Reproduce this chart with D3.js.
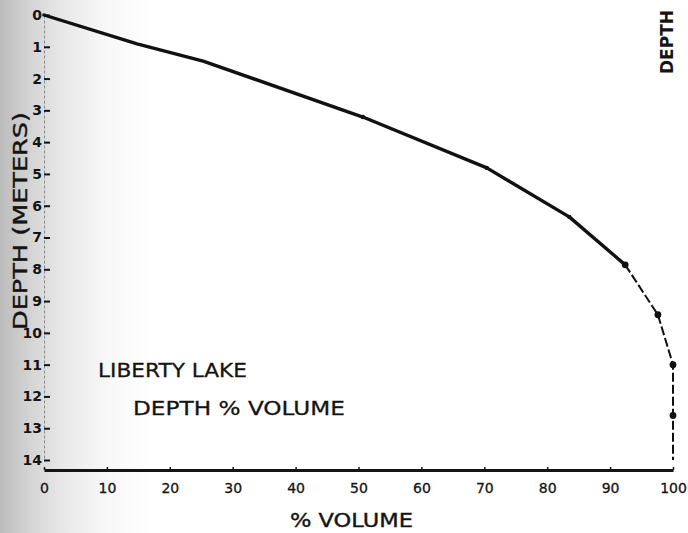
<!DOCTYPE html>
<html>
<head>
<meta charset="utf-8">
<script src="https://cdn.jsdelivr.net/npm/d3@7"></script>
<style>
  html, body { margin: 0; padding: 0; background: #fff; }
  svg { display: block; }
  text { font-family: "DejaVu Sans", sans-serif; fill: #141414; }
</style>
</head>
<body>
<svg id="chart" width="688" height="533"></svg>
<script>
// Liberty Lake: cumulative % of volume against depth (meters)
const volumePct = [0, 14.8, 25.3, 50.7, 70.4, 83.5, 92.4, 97.6, 100, 100, 100];
const depthM    = [0, 0.91, 1.45, 3.21, 4.81, 6.35, 7.86, 9.43, 11.0, 12.6, 14];

const xTicks = [0, 10, 20, 30, 40, 50, 60, 70, 80, 90, 100];
const yTicks = [0, 1, 2, 3, 4, 5, 6, 7, 8, 9, 10, 11, 12, 13, 14];

const W = 688, H = 533;
const svg = d3.select("#chart");

// paper shading along the left margin
const defs = svg.append("defs");
const grad = defs.append("linearGradient").attr("id", "paper")
  .attr("x1", "0").attr("x2", "1").attr("y1", "0").attr("y2", "0");
[[0, "#bcbcbc"], [0.04, "#d2d2d2"], [0.09, "#e8e8e8"], [0.15, "#f7f7f7"], [0.22, "#ffffff"], [1, "#ffffff"]]
  .forEach(([o, c]) => grad.append("stop").attr("offset", o).attr("stop-color", c));
svg.append("rect").attr("width", W).attr("height", H).attr("fill", "url(#paper)");

const x = d3.scaleLinear().domain([0, 100]).range([44, 673]);
const y = d3.scaleLinear().domain([0, 14]).range([15, 460]);
const xAxisY = 470;

// depth axis: faint dotted spine, ticks pointing into the plot
const gy = svg.append("g").attr("transform", `translate(${x(0)},0)`)
  .call(d3.axisLeft(y).tickValues(yTicks).tickFormat(d3.format("d"))
    .tickSizeInner(-6).tickSizeOuter(0).tickPadding(2));
gy.select(".domain").attr("stroke", "#8a8a8a").attr("stroke-width", 1)
  .attr("stroke-dasharray", "3,2");
gy.selectAll(".tick line").attr("stroke", "#141414").attr("stroke-width", 2);
gy.selectAll(".tick text").attr("font-size", 14).attr("font-weight", "bold")
  .attr("fill", "#141414").attr("font-family", "DejaVu Sans Condensed, DejaVu Sans, sans-serif");

// volume axis
const gx = svg.append("g").attr("transform", `translate(0,${xAxisY})`)
  .call(d3.axisBottom(x).tickValues(xTicks).tickFormat(d3.format("d"))
    .tickSizeInner(-3).tickSizeOuter(0).tickPadding(13));
gx.select(".domain").attr("stroke", "#141414").attr("stroke-width", 3);
gx.selectAll(".tick line").attr("stroke", "#141414").attr("stroke-width", 1.5);
gx.selectAll(".tick text").attr("font-size", 14).attr("fill", "#141414")
  .attr("stroke", "#141414").attr("stroke-width", 0.3);

// curve: solid through the upper profile, dashed near full volume
const pts = volumePct.map((v, i) => [v, depthM[i]]);
const line = d3.line().x(d => x(d[0])).y(d => y(d[1]));
const split = 6;
svg.append("path").attr("d", line(pts.slice(0, split + 1)))
  .attr("fill", "none").attr("stroke", "#111").attr("stroke-width", 3.4)
  .attr("stroke-linejoin", "round").attr("stroke-linecap", "round");
svg.append("path").attr("d", line(pts.slice(split)))
  .attr("fill", "none").attr("stroke", "#111").attr("stroke-width", 2)
  .attr("stroke-dasharray", "9,3");

svg.selectAll("circle.pt").data(pts.slice(3, 10)).join("circle")
  .attr("class", "pt")
  .attr("cx", d => x(d[0])).attr("cy", d => y(d[1]))
  .attr("r", (d, i) => i >= 3 ? 3.4 : 2.2)
  .attr("fill", "#111");

// axis titles
svg.append("text")
  .attr("transform", "translate(27,221) rotate(-90)")
  .attr("text-anchor", "middle").attr("font-size", 20)
  .attr("textLength", 218).attr("lengthAdjust", "spacingAndGlyphs")
  .attr("stroke", "#141414").attr("stroke-width", 0.4)
  .text("DEPTH (METERS)");

svg.append("text")
  .attr("x", 290).attr("y", 527).attr("font-size", 20)
  .attr("textLength", 123).attr("lengthAdjust", "spacingAndGlyphs")
  .attr("stroke", "#141414").attr("stroke-width", 0.4)
  .text("% VOLUME");

// chart label
svg.append("text")
  .attr("x", 98).attr("y", 377).attr("font-size", 20)
  .attr("textLength", 149).attr("lengthAdjust", "spacingAndGlyphs")
  .attr("stroke", "#141414").attr("stroke-width", 0.3)
  .text("LIBERTY LAKE");
svg.append("text")
  .attr("x", 133).attr("y", 415).attr("font-size", 20)
  .attr("textLength", 212).attr("lengthAdjust", "spacingAndGlyphs")
  .attr("stroke", "#141414").attr("stroke-width", 0.3)
  .text("DEPTH % VOLUME");

// running header at the page edge
svg.append("text")
  .attr("transform", "translate(673,74) rotate(-90)")
  .attr("font-size", 17).attr("font-weight", "bold")
  .text("DEPTH");
</script>
</body>
</html>
